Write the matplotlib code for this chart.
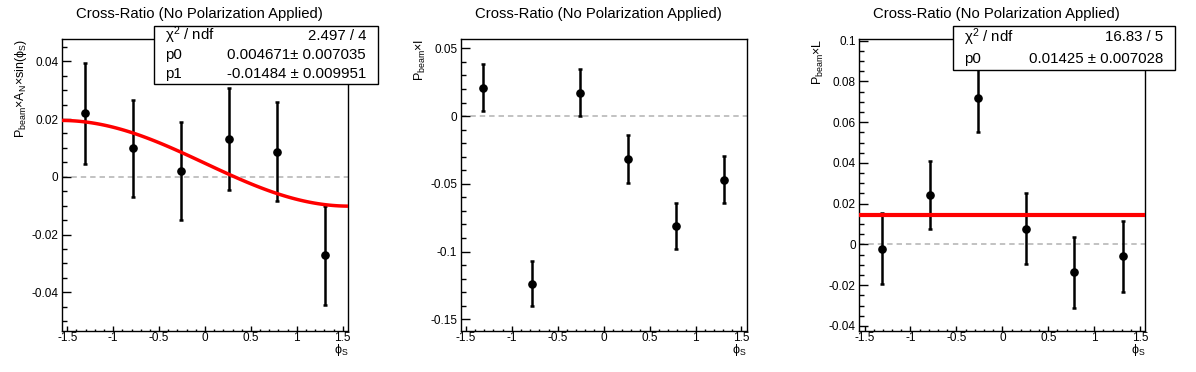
import numpy as np
import matplotlib
matplotlib.use('Agg')
import matplotlib.pyplot as plt
from matplotlib.patches import Rectangle
from matplotlib.ticker import MultipleLocator, FuncFormatter

plt.rcParams['font.family'] = ['Liberation Sans', 'DejaVu Sans']
plt.rcParams['mathtext.fontset'] = 'custom'
plt.rcParams['mathtext.rm'] = 'Liberation Sans'
plt.rcParams['mathtext.it'] = 'Liberation Sans:italic'
plt.rcParams['mathtext.bf'] = 'Liberation Sans:bold'

# bin centres in phi_S
phi_s = [-1.309, -0.785, -0.262, 0.262, 0.785, 1.309]

# panel 1 : P_beam x A_N x sin(phi_S)
y_an = [0.0220, 0.0098, 0.0019, 0.0130, 0.0087, -0.0272]
err_an = [0.0175, 0.0167, 0.0170, 0.0177, 0.0172, 0.0172]
# panel 2 : P_beam x I
y_i = [0.0210, -0.1237, 0.0173, -0.0317, -0.0809, -0.0469]
err_i = [0.0173, 0.0166, 0.0174, 0.0178, 0.0170, 0.0174]
# panel 3 : P_beam x L
y_l = [-0.0021, 0.0241, 0.0720, 0.0078, -0.0137, -0.0059]
err_l = [0.0174, 0.0167, 0.0167, 0.0174, 0.0173, 0.0176]

# fit results (from the stat boxes)
fit_an_p0, fit_an_p1 = 0.004671, -0.01484
fit_l_p0 = 0.01425
stats_an = [(r'$\mathrm{\chi^{2}}$ / ndf', '2.497 / 4'),
            ('p0', '0.004671\u00b1 0.007035'),
            ('p1', '-0.01484 \u00b1 0.009951')]
stats_l = [(r'$\mathrm{\chi^{2}}$ / ndf', '16.83 / 5'),
           ('p0', '0.01425 \u00b1 0.007028')]

titulo = 'Cross-Ratio (No Polarization Applied)'
ylabels = [r'$\mathrm{P_{beam}{\times}A_{N}{\times}sin(\phi_{S})}$',
           r'$\mathrm{P_{beam}{\times}I}$',
           r'$\mathrm{P_{beam}{\times}L}$']
ylims = [(-0.0534, 0.0477), (-0.1586, 0.0569), (-0.0425, 0.1008)]
ymajor = [0.02, 0.05, 0.02]
yminor = [0.005, 0.01, 0.005]

W, H = 1196, 372
pw = W / 3.0


def caja(l, t, r, b):
    '''rectangulo en pixeles (origen arriba a la izquierda) -> fraccion de figura'''
    return [l / W, 1 - b / H, (r - l) / W, (b - t) / H]


def etiqueta(v, pos):
    v = round(v, 6)
    if v == 0:
        return '0'
    return '%g' % v


fig = plt.figure(figsize=(W / 100, H / 100), dpi=100)

datos = [(y_an, err_an), (y_i, err_i), (y_l, err_l)]
axes = []
for k in range(3):
    l = k * pw + 62
    ax = fig.add_axes(caja(l, 39, l + 286, 331))
    axes.append(ax)
    y, e = datos[k]

    ax.axhline(0, color='#bdbdbd', lw=1.3, ls=(0, (3, 2.2)), zorder=1)
    ax.errorbar(phi_s, y, yerr=e, fmt='o', color='black', ms=5.2,
                elinewidth=1.8, capsize=1.6, capthick=1.8, zorder=2)

    ax.set_xlim(-1.557, 1.557)
    ax.set_ylim(*ylims[k])
    ax.xaxis.set_major_locator(MultipleLocator(0.5))
    ax.xaxis.set_minor_locator(MultipleLocator(0.1))
    ax.yaxis.set_major_locator(MultipleLocator(ymajor[k]))
    ax.yaxis.set_minor_locator(MultipleLocator(yminor[k]))
    ax.xaxis.set_major_formatter(FuncFormatter(etiqueta))
    ax.yaxis.set_major_formatter(FuncFormatter(etiqueta))
    ax.tick_params(which='both', direction='in', top=False, right=False,
                   labelsize=8.5, width=1)
    ax.tick_params(axis='x', which='major', length=3.4, pad=1.0)
    ax.tick_params(axis='x', which='minor', length=1.7)
    ax.tick_params(axis='y', which='major', length=6.5, pad=2.5)
    ax.tick_params(axis='y', which='minor', length=3.5)
    for s in ax.spines.values():
        s.set_linewidth(1)

    ax.set_ylabel(ylabels[k], loc='top', fontsize=9)
    ax.yaxis.set_label_coords(-33 / 286, 1)
    ax.set_xlabel(r'$\mathrm{\phi_{S}}$', loc='right', fontsize=9)
    ax.xaxis.set_label_coords(1, -0.038)
    ax.set_title(titulo, x=0.48, y=1 + 25 / 292, va='center', pad=0,
                 fontsize=10.7)

# curvas de ajuste
xf = np.linspace(-1.5708, 1.545, 100)
axes[0].plot(xf, fit_an_p0 + fit_an_p1 * np.sin(xf), color='red', lw=2.5,
             zorder=3)
axes[2].plot([-1.5708, 1.545], [fit_l_p0, fit_l_p0], color='red', lw=3,
             zorder=3)


def cuadro(l, t, r, b, filas):
    fig.add_artist(Rectangle((l / W, 1 - b / H), (r - l) / W, (b - t) / H,
                             transform=fig.transFigure, facecolor='white',
                             edgecolor='black', lw=1, zorder=5))
    dy = (b - t) / len(filas)
    for i, (a, v) in enumerate(filas):
        yc = 1 - (t + dy * (i + 0.5)) / H
        fig.text((l + 11) / W, yc, a, ha='left', va='center', fontsize=10.8,
                 zorder=6)
        fig.text((r - 12) / W, yc, v, ha='right', va='center', fontsize=10.8,
                 zorder=6)


cuadro(154, 26, 378, 84, stats_an)
cuadro(953, 26, 1175, 70, stats_l)

fig.savefig('out.png', dpi=100)
